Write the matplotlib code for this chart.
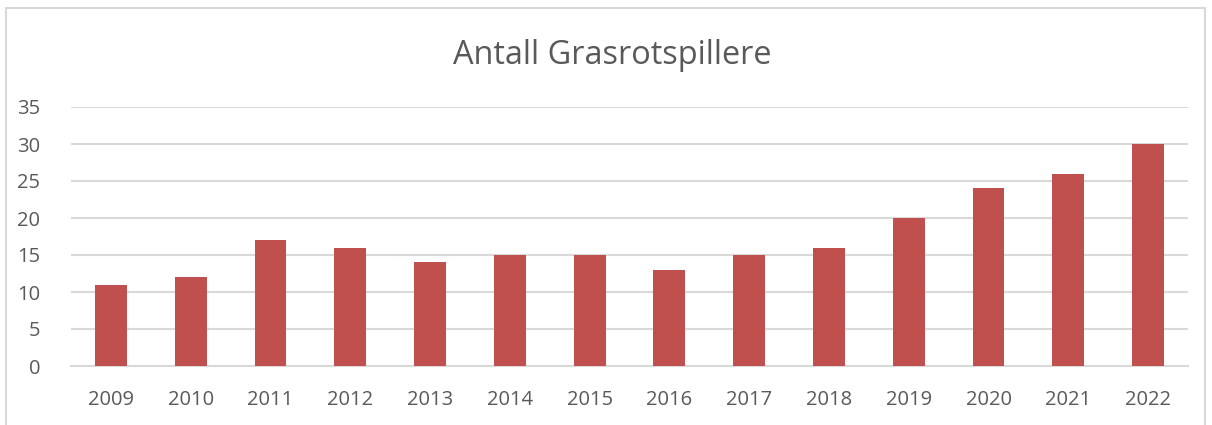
import numpy as np
import matplotlib.pyplot as plt
from matplotlib.patches import Rectangle

years = ["2009", "2010", "2011", "2012", "2013", "2014", "2015",
         "2016", "2017", "2018", "2019", "2020", "2021", "2022"]
players = [11, 12, 17, 16, 14, 15, 15, 13, 15, 16, 20, 24, 26, 30]

bar_color = "#C0504D"
text_color = "#595959"
grid_color = "#D9D9D9"

plt.rcParams['font.family'] = ['Open Sans', 'DejaVu Sans']

fig = plt.figure(figsize=(12.12, 4.25), dpi=100)
ax = fig.add_axes([71 / 1212, 1 - 366 / 425, (1188 - 71) / 1212, (366 - 107) / 425])

x = np.arange(len(years))
ax.bar(x, players, width=0.4, color=bar_color, zorder=3)

ax.set_xlim(-0.5, len(years) - 0.5)
ax.set_ylim(0, 35)
ax.set_yticks(range(0, 36, 5))
ax.set_xticks(x)
ax.set_xticklabels(years)
ax.grid(axis="y", color=grid_color, linewidth=1.5, zorder=0)

for s in ["top", "right", "left"]:
    ax.spines[s].set_visible(False)
ax.spines["bottom"].set_color(grid_color)
ax.spines["bottom"].set_linewidth(1.5)
ax.tick_params(axis="both", length=0, labelsize=14.5, colors=text_color)
ax.tick_params(axis="y", pad=22)
ax.tick_params(axis="x", pad=17)

fig.text(612 / 1212, 1 - 64 / 425, "Antall Grasrotspillere", ha="center", va="baseline",
         fontsize=23.4, color=text_color)

# chart border
fig.patches.append(Rectangle((6 / 1212, -0.05), (1205 - 6) / 1212, 1.05 - 8 / 425,
                             transform=fig.transFigure, fill=False,
                             edgecolor=grid_color, linewidth=1.5))

plt.savefig("out.png", dpi=100)
